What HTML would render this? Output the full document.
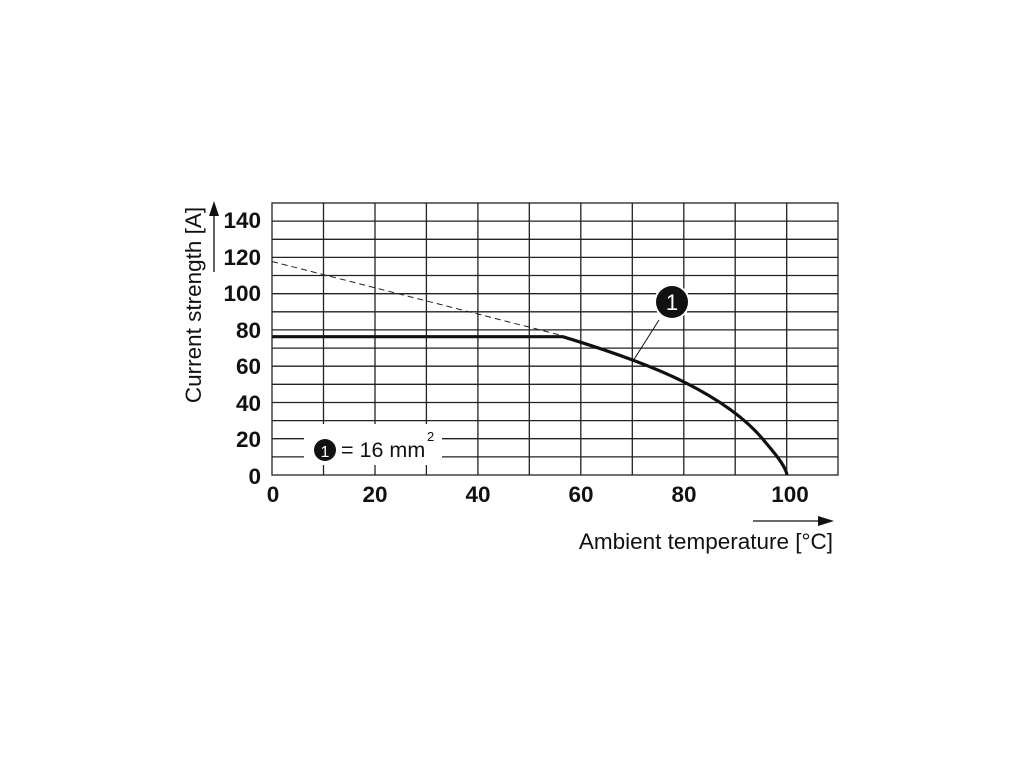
<!DOCTYPE html><html><head><style>body{margin:0;background:#fff}</style></head><body>
<svg width="1020" height="765" xmlns="http://www.w3.org/2000/svg" font-family="Liberation Sans, Arial, sans-serif">
<rect width="1020" height="765" fill="#fff"/>
<g stroke="#222" stroke-width="1.3" fill="none">
<rect x="272" y="203" width="566" height="272"/>
<path d="M323.5 203V475M375 203V475M426.4 203V475M477.9 203V475M529.3 203V475M580.8 203V475M632.3 203V475M683.8 203V475M735.2 203V475M786.7 203V475"/>
<path d="M272 221.1H838M272 239.3H838M272 257.4H838M272 275.5H838M272 293.7H838M272 311.8H838M272 329.9H838M272 348.1H838M272 366.2H838M272 384.3H838M272 402.5H838M272 420.6H838M272 438.7H838M272 456.9H838"/>
</g>
<path d="M272 261.5 L560 335" stroke="#222" stroke-width="1" stroke-dasharray="6,4" fill="none"/>
<rect x="304" y="424" width="138" height="41" fill="#fff"/>
<circle cx="325" cy="450" r="11" fill="#111"/>
<text x="325" y="457" font-size="16" fill="#fff" text-anchor="middle">1</text>
<text x="341" y="457" font-size="21.5" fill="#111">= 16 mm</text>
<text x="427" y="441" font-size="13" fill="#111">2</text>
<path d="M272 336.7 L562.7 336.7 C 600 348, 650 365, 684 382 C 720 400, 748 420, 766 443 C 779 458, 786 468, 787 475" stroke="#111" stroke-width="3.2" fill="none"/>
<line x1="659" y1="320" x2="633" y2="361" stroke="#111" stroke-width="1"/>
<circle cx="672" cy="302" r="18" fill="#fff"/>
<circle cx="672" cy="302" r="16" fill="#111"/>
<text x="672" y="310" font-size="22" fill="#fff" text-anchor="middle">1</text>
<g font-size="22.5" font-weight="bold" fill="#111" text-anchor="end">
<text x="261" y="228">140</text><text x="261" y="265">120</text><text x="261" y="301">100</text><text x="261" y="338">80</text><text x="261" y="374">60</text><text x="261" y="411">40</text><text x="261" y="447">20</text><text x="261" y="484">0</text>
</g>
<g font-size="22.5" font-weight="bold" fill="#111" text-anchor="middle">
<text x="273" y="502">0</text><text x="375" y="502">20</text><text x="478" y="502">40</text><text x="581" y="502">60</text><text x="684" y="502">80</text><text x="790" y="502">100</text>
</g>
<text transform="translate(201,305) rotate(-90)" font-size="22.5" fill="#111" text-anchor="middle">Current strength [A]</text>
<line x1="214" y1="272" x2="214" y2="212" stroke="#111" stroke-width="1.3"/>
<path d="M209 216 L214 201 L219 216Z" fill="#111"/>
<text x="833" y="549" font-size="22.5" fill="#111" text-anchor="end">Ambient temperature [°C]</text>
<line x1="753" y1="521" x2="822" y2="521" stroke="#111" stroke-width="1.3"/>
<path d="M818 516 L834 521 L818 526Z" fill="#111"/>
</svg>
</body></html>
